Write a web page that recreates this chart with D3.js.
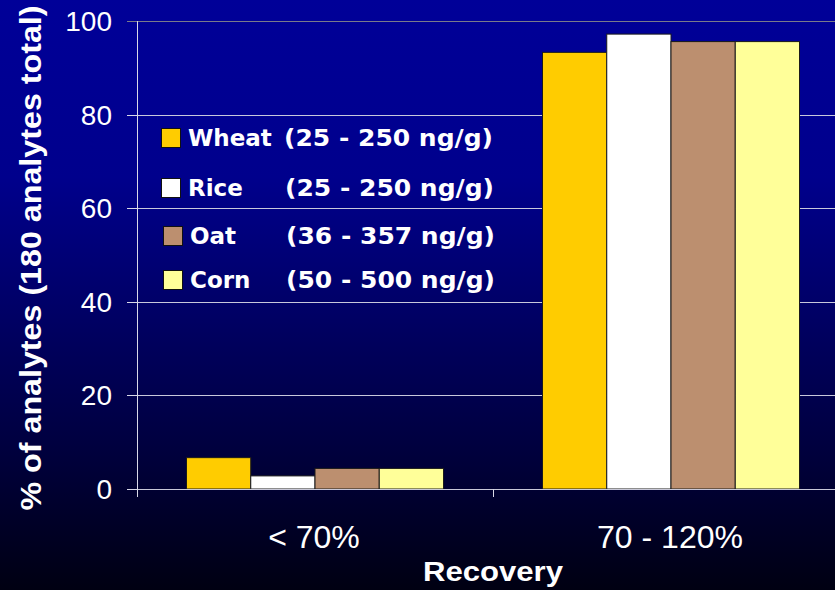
<!DOCTYPE html>
<html>
<head>
<meta charset="utf-8">
<script src="https://cdn.jsdelivr.net/npm/d3@7"></script>
<style>
  html, body { margin: 0; padding: 0; background: #000010; }
  svg { display: block; }
  .arial { font-family: "Liberation Sans", Arimo, Arial, Helvetica, sans-serif; }
  .comic { font-family: "Comic Sans MS", "DejaVu Sans", sans-serif; font-weight: bold; }
</style>
</head>
<body>
<svg id="chart" width="835" height="590"></svg>
<script>
// datos
const categorias = ["< 70%", "70 - 120%"];
const series = ["Wheat", "Rice", "Oat", "Corn"];
const rangos = ["(25 - 250 ng/g)", "(25 - 250 ng/g)", "(36 - 357 ng/g)", "(50 - 500 ng/g)"];
const colores = ["#ffcc00", "#ffffff", "#bc8f6f", "#ffff99"];
const wheat = [6.7, 93.3];
const rice = [2.8, 97.2];
const oat = [4.4, 95.6];
const corn = [4.4, 95.6];
const valores = [wheat, rice, oat, corn];
const yTicks = [0, 20, 40, 60, 80, 100];

const svg = d3.select("#chart");
const W = 835, H = 590;

// fondo degradado
const defs = svg.append("defs");
const grad = defs.append("linearGradient")
  .attr("id", "fondo").attr("x1", 0).attr("y1", 0).attr("x2", 0).attr("y2", 1);
grad.append("stop").attr("offset", "0").attr("stop-color", "#000098");
grad.append("stop").attr("offset", "0.3").attr("stop-color", "#00008c");
grad.append("stop").attr("offset", "0.75").attr("stop-color", "#000040");
grad.append("stop").attr("offset", "1").attr("stop-color", "#000012");
svg.append("rect").attr("width", W).attr("height", H).attr("fill", "url(#fondo)");

// escalas
const x = d3.scaleBand().domain(categorias).range([137, 849]).padding(0);
const y = d3.scaleLinear().domain([0, 100]).range([489, 21]);
const xs = d3.scaleBand().domain(series).range([-128.5, 128.5]).padding(0);

// rejilla
svg.append("g").selectAll("line")
  .data(yTicks.filter(d => d > 0))
  .enter().append("line")
  .attr("x1", 127).attr("x2", W)
  .attr("y1", d => Math.round(y(d)) + 0.5)
  .attr("y2", d => Math.round(y(d)) + 0.5)
  .attr("stroke", d => d === 100 ? "#7a7a8a" : "#c8c8dc")
  .attr("stroke-width", 1);

// barras
const grupos = svg.append("g").selectAll("g")
  .data(series)
  .enter().append("g")
  .attr("fill", (d, i) => colores[i]);

grupos.selectAll("rect")
  .data((s, i) => categorias.map((c, j) => ({ s: s, c: c, v: valores[i][j] })))
  .enter().append("rect")
  .attr("x", d => x(d.c) + x.bandwidth() / 2 + xs(d.s))
  .attr("width", xs.bandwidth())
  .attr("y", d => y(d.v))
  .attr("height", d => y(0) - y(d.v))
  .attr("stroke", "#1a1a1a")
  .attr("stroke-width", 1);

// ejes
const ejeY = svg.append("g");
ejeY.append("line")
  .attr("x1", 137.5).attr("x2", 137.5).attr("y1", y(100)).attr("y2", 497)
  .attr("stroke", "#d8d8e8");
ejeY.selectAll("line.tick")
  .data(yTicks)
  .enter().append("line").attr("class", "tick")
  .attr("x1", 127).attr("x2", 137)
  .attr("y1", d => Math.round(y(d)) + 0.5).attr("y2", d => Math.round(y(d)) + 0.5)
  .attr("stroke", d => d === 100 ? "#7a7a8a" : "#d8d8e8");
ejeY.selectAll("text")
  .data(yTicks)
  .enter().append("text")
  .attr("class", "arial")
  .attr("x", 112).attr("y", d => y(d) + 10)
  .attr("text-anchor", "end")
  .attr("fill", "#ffffff")
  .style("font-size", "28px")
  .text(d => d);

const ejeX = svg.append("g");
ejeX.append("line")
  .attr("x1", 137).attr("x2", W).attr("y1", 489.5).attr("y2", 489.5)
  .attr("stroke", "#c8c8d8");
ejeX.selectAll("line.tick")
  .data(categorias)
  .enter().append("line").attr("class", "tick")
  .attr("x1", d => Math.round(x(d)) + 0.5).attr("x2", d => Math.round(x(d)) + 0.5)
  .attr("y1", 489).attr("y2", 497)
  .attr("stroke", "#d8d8e8");
ejeX.selectAll("text")
  .data(categorias)
  .enter().append("text")
  .attr("class", "arial")
  .attr("x", d => x(d) + x.bandwidth() / 2 - 1)
  .attr("y", 548)
  .attr("text-anchor", "middle")
  .attr("fill", "#ffffff")
  .style("font-size", "32px")
  .text(d => d);

// títulos
svg.append("text")
  .attr("class", "arial")
  .attr("x", 493).attr("y", 581)
  .attr("text-anchor", "middle")
  .attr("fill", "#ffffff")
  .style("font-size", "27px").style("font-weight", "bold")
  .attr("textLength", 140).attr("lengthAdjust", "spacingAndGlyphs")
  .text("Recovery");

svg.append("text")
  .attr("class", "arial")
  .attr("transform", "translate(41,258) rotate(-90)")
  .attr("text-anchor", "middle")
  .attr("fill", "#ffffff")
  .style("font-size", "29px").style("font-weight", "bold")
  .attr("textLength", 505).attr("lengthAdjust", "spacingAndGlyphs")
  .text("% of analytes (180 analytes total)");

// leyenda
const legY = [138, 188, 236, 280];
const legX = [161, 161, 163, 163];
const leyenda = svg.append("g").selectAll("g")
  .data(series)
  .enter().append("g")
  .attr("transform", (d, i) => `translate(${legX[i]},${legY[i]})`);
leyenda.append("rect")
  .attr("x", 0.5).attr("y", -9.5).attr("width", 19).attr("height", 19)
  .attr("fill", (d, i) => colores[i])
  .attr("stroke", "#111");
leyenda.append("text")
  .attr("class", "comic")
  .attr("x", 27).attr("y", 8)
  .attr("fill", "#ffffff")
  .style("font-size", "23px")
  .text(d => d);
leyenda.append("text")
  .attr("class", "comic")
  .attr("x", (d, i) => 284 - legX[i] + (i > 1 ? 2 : i))
  .attr("y", 8)
  .attr("fill", "#ffffff")
  .style("font-size", "23px")
  .attr("textLength", 209).attr("lengthAdjust", "spacingAndGlyphs")
  .text((d, i) => rangos[i]);
</script>
</body>
</html>
